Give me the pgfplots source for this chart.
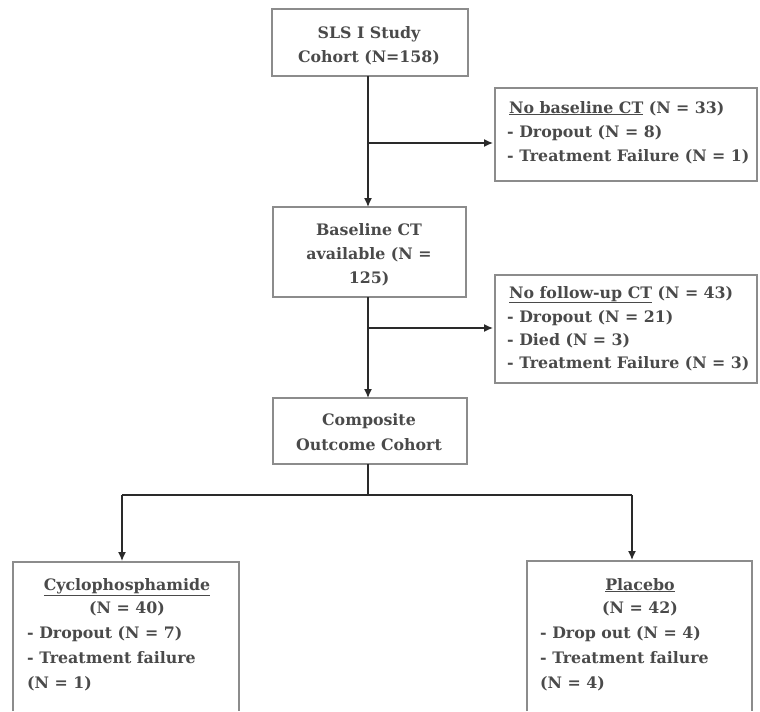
\documentclass[border=0pt]{standalone}
\usepackage{pgfplots}
\pgfplotsset{compat=1.18}
\usepackage{fontspec}
\setmainfont{DejaVu Serif}
\usetikzlibrary{arrows.meta}
\definecolor{txt}{HTML}{4A4A4A}
\definecolor{boxc}{HTML}{8C8C8C}
\definecolor{linec}{HTML}{2A2A2A}
\begin{document}
\begin{tikzpicture}
\begin{axis}[
  width=760pt, height=711pt, scale only axis,
  xmin=0, xmax=760, ymin=0, ymax=711, y dir=reverse,
  hide axis, clip=false,
]
\path (axis cs:0,0) rectangle (axis cs:760,711);
\tikzset{
  bx/.style={draw=boxc, line width=1.3pt},
  ln/.style={draw=linec, line width=1.4pt},
  ar/.style={draw=linec, line width=1.4pt, -{Latex[length=9pt,width=8pt]}},
  t/.style={font=\fontsize{15.8}{20}\selectfont\bfseries, text=txt, inner sep=0pt},
}
\addplot[draw=none] coordinates {(0,0) (760,711)};

% boxes
\draw[bx] (axis cs:272,9) rectangle (axis cs:468,76);
\draw[bx] (axis cs:495,88) rectangle (axis cs:757,181);
\draw[bx] (axis cs:273,207) rectangle (axis cs:466,297);
\draw[bx] (axis cs:495,275) rectangle (axis cs:757,383);
\draw[bx] (axis cs:273,398) rectangle (axis cs:467,464);
\draw[bx] (axis cs:13,711) -- (axis cs:13,562) -- (axis cs:239,562) -- (axis cs:239,711);
\draw[bx] (axis cs:527,711) -- (axis cs:527,561) -- (axis cs:752,561) -- (axis cs:752,711);

% connectors
\draw[ar] (axis cs:368,76) -- (axis cs:368,207);
\draw[ar] (axis cs:368,143) -- (axis cs:493,143);
\draw[ar] (axis cs:368,297) -- (axis cs:368,398);
\draw[ar] (axis cs:368,328) -- (axis cs:493,328);
\draw[ln] (axis cs:368,464) -- (axis cs:368,495);
\draw[ln] (axis cs:122,495) -- (axis cs:632,495);
\draw[ar] (axis cs:122,495) -- (axis cs:122,561);
\draw[ar] (axis cs:632,495) -- (axis cs:632,560);

% texts
\node[t, anchor=base] at (axis cs:369,38) {SLS I Study};
\node[t, anchor=base] at (axis cs:369,63) {Cohort (N=158)};

\node[t, anchor=base west] at (axis cs:509,113) {\underline{No baseline CT} (N = 33)};
\node[t, anchor=base west] at (axis cs:507,137) {- Dropout (N = 8)};
\node[t, anchor=base west] at (axis cs:507,161) {- Treatment Failure (N = 1)};

\node[t, anchor=base] at (axis cs:369,235) {Baseline CT};
\node[t, anchor=base] at (axis cs:369,259) {available (N =};
\node[t, anchor=base] at (axis cs:369,283) {125)};

\node[t, anchor=base west] at (axis cs:509,298) {\underline{No follow-up CT} (N = 43)};
\node[t, anchor=base west] at (axis cs:507,322) {- Dropout (N = 21)};
\node[t, anchor=base west] at (axis cs:507,345) {- Died (N = 3)};
\node[t, anchor=base west] at (axis cs:507,368) {- Treatment Failure (N = 3)};

\node[t, anchor=base] at (axis cs:369,425) {Composite};
\node[t, anchor=base] at (axis cs:369,450) {Outcome Cohort};

\node[t, anchor=base] at (axis cs:127,590) {\underline{Cyclophosphamide}};
\node[t, anchor=base] at (axis cs:127,613) {(N = 40)};
\node[t, anchor=base west] at (axis cs:27,638) {- Dropout (N = 7)};
\node[t, anchor=base west] at (axis cs:27,663) {- Treatment failure};
\node[t, anchor=base west] at (axis cs:27,688) {(N = 1)};

\node[t, anchor=base] at (axis cs:640,590) {\underline{Placebo}};
\node[t, anchor=base] at (axis cs:640,613) {(N = 42)};
\node[t, anchor=base west] at (axis cs:540,638) {- Drop out (N = 4)};
\node[t, anchor=base west] at (axis cs:540,663) {- Treatment failure};
\node[t, anchor=base west] at (axis cs:540,688) {(N = 4)};
\end{axis}
\end{tikzpicture}
\end{document}
